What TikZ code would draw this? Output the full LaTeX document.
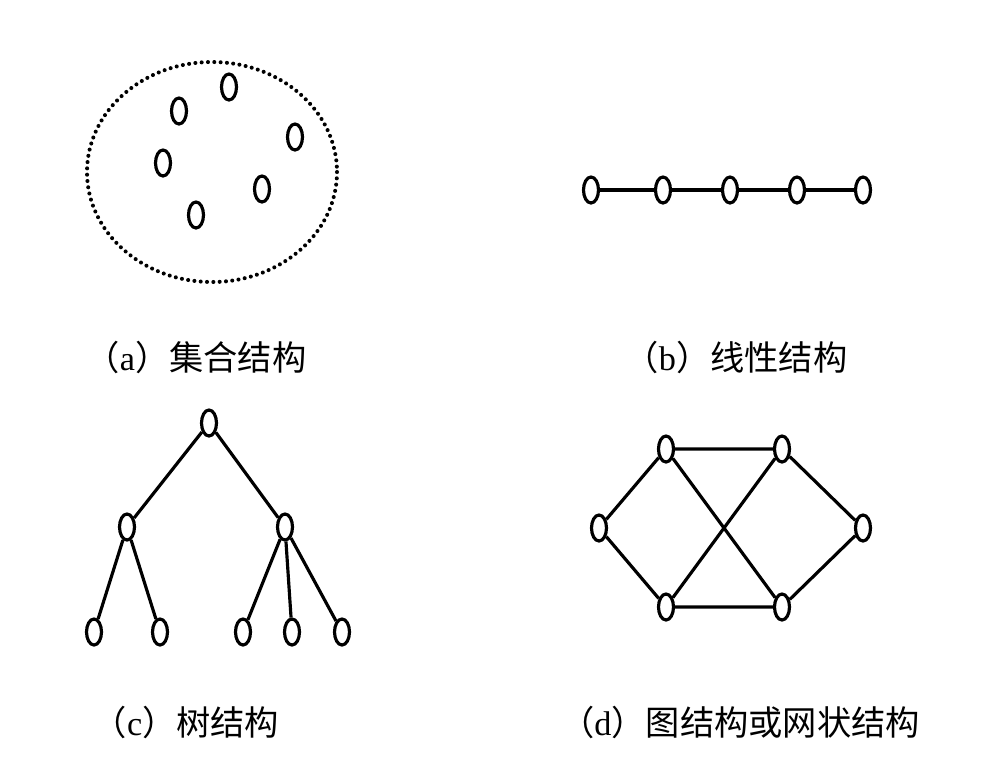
\documentclass[tikz,border=0pt]{standalone}
\usepackage{fontspec}
\setmainfont{Liberation Serif}
\newfontfamily\cjk{Noto Sans CJK SC}
\usetikzlibrary{shapes.geometric, positioning}
\tikzset{
  nodeO/.style={ellipse, draw=black, line width=1.8pt, inner sep=0pt,
                minimum width=0.30cm, minimum height=0.52cm},
  lineK/.style={draw=black, line width=1.8pt},
  setRing/.style={draw=black, line width=2.3pt, line cap=round,
                  dash pattern=on 0pt off 3.6pt},
  capText/.style={font=\fontsize{19.5}{23}\selectfont, inner sep=0pt},
}

\begin{document}
\begin{tikzpicture}[x=0.02cm, y=-0.02cm]
    \useasboundingbox (0,0) rectangle (984,769);
    % (a) set
    \draw[setRing] (212,172) ellipse [x radius=125, y radius=110];
    \node[nodeO] (a1) at (229,87) {};
    \node[nodeO] (a2) at (179,111) {};
    \node[nodeO] (a3) at (295,137) {};
    \node[nodeO] (a4) at (163,163) {};
    \node[nodeO] (a5) at (262,189) {};
    \node[nodeO] (a6) at (196,215) {};
    \node[capText] (capA) at (196,357) {{\cjk （}a{\cjk ）集合结构}};
    % (b) linear
    \node[nodeO] (b1) at (591,190) {};
    \node[nodeO] (b2) at (663,190) {};
    \node[nodeO] (b3) at (730,190) {};
    \node[nodeO] (b4) at (797,190) {};
    \node[nodeO] (b5) at (863,190) {};
    \draw[lineK] (b1) -- (b2) -- (b3) -- (b4) -- (b5);
    \node[capText] (capB) at (736,357) {{\cjk （}b{\cjk ）线性结构}};
    % (c) tree
    \node[nodeO] (root) at (209,423) {};
    \node[nodeO] (cL) at (127,527) {};
    \node[nodeO] (cR) at (285,527) {};
    \node[nodeO] (l1) at (94,632) {};
    \node[nodeO] (l2) at (160,632) {};
    \node[nodeO] (l3) at (243,632) {};
    \node[nodeO] (l4) at (292,632) {};
    \node[nodeO] (l5) at (342,632) {};
    \draw[lineK] (root) -- (cL);
    \draw[lineK] (root) -- (cR);
    \draw[lineK] (cL) -- (l1);
    \draw[lineK] (cL) -- (l2);
    \draw[lineK] (cR) -- (l3);
    \draw[lineK] (cR) -- (l4);
    \draw[lineK] (cR) -- (l5);
    \node[capText] (capC) at (186,722) {{\cjk （}c{\cjk ）树结构}};
    % (d) graph
    \node[nodeO] (gW) at (599,528) {};
    \node[nodeO] (gNW) at (666,449) {};
    \node[nodeO] (gNE) at (782,449) {};
    \node[nodeO] (gE) at (863,528) {};
    \node[nodeO] (gSW) at (666,607) {};
    \node[nodeO] (gSE) at (782,607) {};
    \draw[lineK] (gW) -- (gNW) -- (gNE) -- (gE) -- (gSE) -- (gSW) -- (gW);
    \draw[lineK] (gNW) -- (gSE);
    \draw[lineK] (gNE) -- (gSW);
    \node[capText] (capD) at (740,722) {{\cjk （}d{\cjk ）图结构或网状结构}};
\end{tikzpicture}
\end{document}
